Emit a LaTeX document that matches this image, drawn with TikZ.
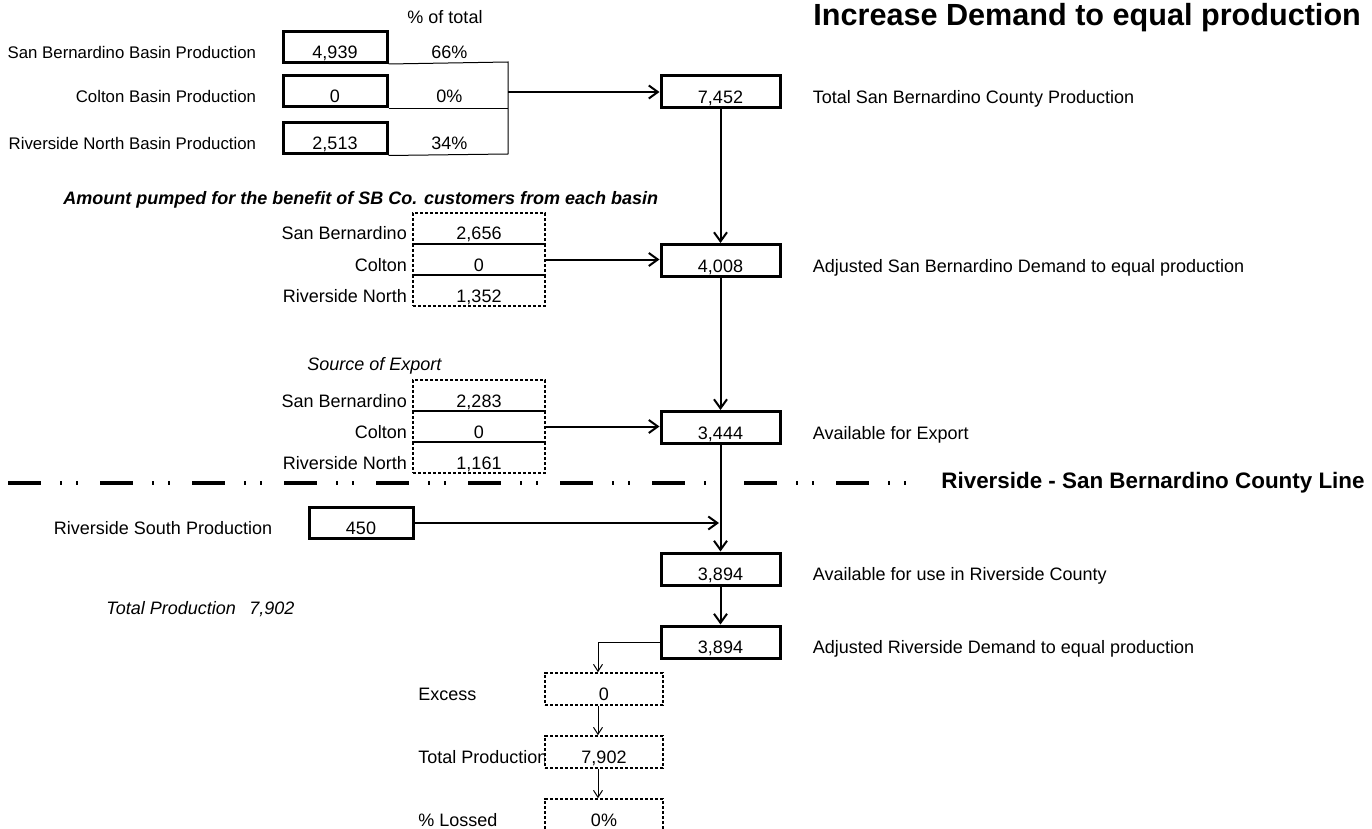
\documentclass[tikz,border=0pt]{standalone}
\usepackage{fontspec}
\setmainfont{Liberation Sans}
\usetikzlibrary{arrows.meta,
	positioning}

\newcommand{\diagfont}{\fontsize{9}{11}\selectfont}

\tikzset{
	numbox/.style={draw, line width=1.5pt, inner sep=0pt, minimum width=52pt, minimum height=15.5pt, text height=11.5pt, text depth=0pt},
	bigbox/.style={numbox, minimum width=59.5pt, minimum height=16pt},
	cellbox/.style={draw, line width=0.8pt, dash pattern=on 1.6pt off 0.9pt, inner sep=0pt, minimum width=66pt, minimum height=15.5pt, text height=11.5pt, text depth=0pt},
	lowbox/.style={cellbox, fill=white, minimum width=59pt, minimum height=16pt},
	pct/.style={inner sep=0pt, minimum width=60.5pt, minimum height=15.5pt, text height=11.5pt, text depth=0pt},
	lbl/.style={inner xsep=1pt, inner ysep=0pt, text height=11.5pt, text depth=0pt},
	basinlbl/.style={lbl, font=\fontsize{8.4}{10}\selectfont},
	flow/.style={line width=1pt, -{Straight Barb[length=4.5pt,width=6.5pt]}},
	thinflow/.style={line width=0.5pt, -{Straight Barb[length=3.5pt,width=4.5pt]}},
	bracket/.style={line width=0.5pt},
	countyline/.style={line width=2pt, dash pattern=on 16.5pt off 9.5pt on 1pt off 7pt on 1pt off 11pt}
}

\begin{document}
\begin{tikzpicture}[x=0.5pt, y=-0.5pt, font=\diagfont]
	\useasboundingbox (0,0) rectangle (1372,829);
	\node[anchor=west, inner sep=0pt, font=\fontsize{15.3}{18}\selectfont\bfseries] (title) at (813,18) {Increase Demand to equal production};
	\node[inner sep=0pt] (pcthead) at (445,17) {\% of total};

	% basin production
	\node[numbox] (sbb) at (335,47) {4,939};
	\node[numbox] (clb) at (335,91.5) {0};
	\node[numbox] (rnb) at (335,138.5) {2,513};
	\node[basinlbl, left=11.5pt of sbb] (sbblbl) {San Bernardino Basin Production};
	\node[basinlbl, left=11.5pt of clb] (clblbl) {Colton Basin Production};
	\node[basinlbl, left=11.5pt of rnb] (rnblbl) {Riverside North Basin Production};
	\node[pct, right=0pt of sbb] (sbpct) {66\%};
	\node[pct, right=0pt of clb] (clpct) {0\%};
	\node[pct, right=0pt of rnb] (rnpct) {34\%};
	\coordinate (brtop) at (508,62);
	\coordinate (brbot) at (508,154);
	\coordinate (brmid) at (508,92);
	\draw[bracket] (sbb.south east) -- (brtop) -- (brbot) -- (rnb.south east);
	\draw[bracket] (clb.south east) -- (clb.south east -| brtop);

	\node[bigbox] (tot) at (720.5,92) {7,452};
	\node[lbl, right=14.5pt of tot] (totlbl) {Total San Bernardino County Production};
	\draw[flow] (brmid) -- (tot.west);

	% pumped for SB customers
	\node[anchor=west, inner sep=0pt, font=\diagfont\bfseries\itshape] (pumphead) at (63,200) {Amount pumped for the benefit of SB Co. customers from each basin};
	\node[cellbox] (pa) at (479,228.5) {2,656};
	\node[cellbox] (pb) at (479,259.5) {0};
	\node[cellbox] (pc) at (479,290.5) {1,352};
	\node[lbl, left=1.5pt of pa] (palbl) {San Bernardino};
	\node[lbl, left=1.5pt of pb] (pblbl) {Colton};
	\node[lbl, left=1.5pt of pc] (pclbl) {Riverside North};

	\node[bigbox] (adj) at (720.5,260.5) {4,008};
	\node[lbl, right=14.5pt of adj] (adjlbl) {Adjusted San Bernardino Demand to equal production};
	\draw[flow] (pb.east) -- (pb.east -| adj.west);
	\draw[flow] (tot.south) -- (adj.north);

	% source of export
	\node[anchor=west, inner sep=0pt, font=\diagfont\itshape] (srchead) at (307,366) {Source of Export};
	\node[cellbox] (ea) at (479,395.5) {2,283};
	\node[cellbox] (eb) at (479,426.5) {0};
	\node[cellbox] (ec) at (479,457.5) {1,161};
	\node[lbl, left=1.5pt of ea] (ealbl) {San Bernardino};
	\node[lbl, left=1.5pt of eb] (eblbl) {Colton};
	\node[lbl, left=1.5pt of ec] (eclbl) {Riverside North};

	\node[bigbox] (exp) at (720.5,427.5) {3,444};
	\node[lbl, right=14.5pt of exp] (explbl) {Available for Export};
	\draw[flow] (eb.east) -- (eb.east -| exp.west);
	\draw[flow] (adj.south) -- (exp.north);

	% county line
	\coordinate (cl0) at (8,483);
	\coordinate (cl1) at (925,483);
	\draw[countyline] (cl0) -- (cl1);
	\node[anchor=west, inner sep=0pt, font=\fontsize{11.2}{13}\selectfont\bfseries] (cltext) at (941,483) {Riverside - San Bernardino County Line};

	% riverside county
	\node[numbox] (rsp) at (361,523) {450};
	\node[lbl, left=16.5pt of rsp] (rsplbl) {Riverside South Production};
	\node[bigbox] (cnt1) at (720.5,569) {3,894};
	\node[lbl, right=14.5pt of cnt1] (cnt1lbl) {Available for use in Riverside County};
	\node[bigbox] (cnt2) at (720.5,642) {3,894};
	\node[lbl, right=14.5pt of cnt2] (cnt2lbl) {Adjusted Riverside Demand to equal production};
	\coordinate (join) at (719,523);
	\draw[flow] (exp.south) -- (cnt1.north);
	\draw[flow] (rsp.east) -- (join);
	\draw[flow] (cnt1.south) -- (cnt2.north);

	\node[lbl, anchor=west, font=\diagfont\itshape] (tplbl) at (104,603) {Total Production};
	\node[lbl, anchor=west, font=\diagfont\itshape] (tpval) at (247,603) {7,902};

	% excess and loss
	\node[lbl, anchor=west] (exclbl) at (416,689) {Excess};
	\node[lbl, anchor=west] (tp2lbl) at (416,752) {Total Production};
	\node[lbl, anchor=west] (lostlbl) at (416,815) {\% Lossed};
	\node[lowbox] (exc) at (604,689) {0};
	\node[lowbox] (tp2) at (604,752) {7,902};
	\node[lowbox] (lost) at (604,815) {0\%};
	\draw[thinflow] (cnt2.west) -| ([xshift=-3pt]exc.north);
	\draw[thinflow] ([xshift=-3pt]exc.south) -- ([xshift=-3pt]tp2.north);
	\draw[thinflow] ([xshift=-3pt]tp2.south) -- ([xshift=-3pt]lost.north);
\end{tikzpicture}
\end{document}
